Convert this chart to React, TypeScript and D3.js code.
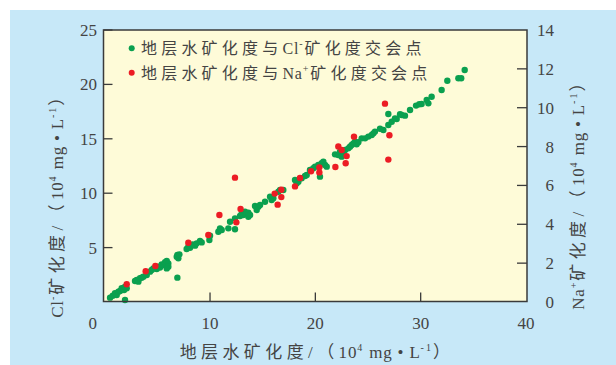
import React from 'react';
import * as d3 from 'd3';

// 地层水矿化度 vs Cl- 矿化度 (left axis)
const clTds = [
  0.51, 0.76, 0.98, 1.14, 1.3, 1.46, 1.61, 1.84, 1.93, 2.09, 1.93, 2.88, 3.04, 3.2, 3.35, 3.51,
  3.67, 3.99, 4.3, 4.46, 4.62, 4.94, 5.09, 5.25, 5.41, 5.57, 5.73, 5.89, 6.04, 6.04, 5.89, 6.84,
  6.99, 6.9, 7.09, 6.9, 7.78, 7.94, 8.1, 8.35, 8.58, 8.73, 9.05, 9.21, 9.94, 10.0, 10.79, 10.95,
  11.11, 11.74, 11.9, 12.37, 12.37, 12.85, 13.01, 13.16, 13.32, 13.48, 13.64, 13.64, 13.8, 14.27,
  14.43, 14.59, 14.75, 15.22, 15.7, 15.85, 16.01, 16.65, 16.49, 16.96, 18.07, 18.23, 18.39, 18.7,
  19.02, 19.18, 19.49, 19.81, 19.97, 20.28, 20.44, 20.6, 20.76, 20.92, 21.08, 21.87, 22.18, 22.34,
  22.5, 22.66, 22.82, 23.13, 23.29, 23.45, 23.61, 23.77, 23.92, 24.08, 24.4, 24.72, 25.03, 25.35,
  25.51, 25.66, 26.14, 26.46, 26.93, 26.93, 27.25, 27.56, 27.72, 28.04, 28.2, 28.51, 28.99, 29.56,
  29.87, 30.09, 30.57, 30.73, 31.04, 31.99, 32.53, 33.58, 33.85, 34.18,
];
const clValues = [
  0.4, 0.58, 0.8, 0.64, 0.95, 1.01, 1.26, 1.1, 1.41, 1.26, 0.18, 1.93, 2.02, 1.87, 2.18, 2.24,
  2.33, 2.48, 2.79, 2.94, 3.09, 3.03, 3.25, 3.16, 3.46, 3.4, 3.65, 3.77, 3.55, 3.25, 3.09, 4.17,
  4.01, 4.32, 4.38, 2.24, 4.87, 5.09, 4.99, 5.3, 5.18, 5.39, 5.61, 5.48, 5.7, 6.1, 6.46, 6.77,
  6.62, 6.77, 7.38, 6.68, 7.69, 7.9, 8.15, 8.0, 8.3, 8.15, 7.84, 8.21, 8.0, 8.82,
  8.46, 8.76, 8.92, 9.22, 9.68, 9.38, 9.53, 10.29, 10.14, 10.29, 11.21, 10.91, 11.06, 11.37,
  11.58, 11.67, 12.13, 12.29, 12.44, 12.59, 11.52, 12.75, 12.9, 12.59, 12.44, 13.57, 13.51, 13.82,
  13.36, 13.66, 13.97, 14.12, 14.28, 14.43, 14.58, 14.74, 14.49, 14.68, 15.04, 15.04, 15.2, 15.35,
  15.5, 15.66, 15.93, 15.81, 16.27, 17.28, 16.57, 16.88, 16.82, 17.25, 17.19, 17.13, 17.65, 18.05,
  18.17, 18.2, 18.57, 18.26, 18.87, 19.49, 20.34, 20.56, 20.56, 21.32,
];

// 地层水矿化度 vs Na+ 矿化度 (right axis)
const naTds = [
  2.09, 3.89, 4.81, 7.94, 9.84, 10.89, 12.37, 12.5, 12.9, 16.14, 16.42, 16.77, 16.77, 18.07,
  18.54, 19.59, 20.38, 20.38, 21.9, 22.18, 22.5, 22.88, 22.97, 23.67, 26.61, 27.03, 26.93,
];
const naValues = [
  0.91, 1.58, 1.85, 3.05, 3.45, 4.48, 6.4, 4.1, 4.79, 5.58, 5.01, 5.78, 5.4, 5.95,
  6.38, 6.73, 6.93, 6.67, 6.95, 8.0, 7.82, 7.14, 7.51, 8.51, 10.21, 8.58, 7.33,
];

const xTicks = [0, 10, 20, 30, 40];
const leftTicks = [5, 10, 15, 20, 25];
const rightTicks = [0, 2, 4, 6, 8, 10, 12, 14];

const W = 616;
const H = 365;
const plot = { left: 103.5, right: 527, top: 30, bottom: 301.5 };

const serif = '"Liberation Serif", "Times New Roman", "Noto Sans CJK SC", serif';
const textColor = '#444444';
const axisColor = '#3a3a3a';
const green = '#0aa04f';
const red = '#ec1c24';

// label pieces: c = CJK (spaced), l = latin, s = superscript
type Piece = [string, 'c' | 'l' | 's'];
const legendCl: Piece[] = [['地层水矿化度与', 'c'], ['Cl', 'l'], ['-', 's'], ['矿化度交会点', 'c']];
const legendNa: Piece[] = [['地层水矿化度与', 'c'], ['Na', 'l'], ['+', 's'], ['矿化度交会点', 'c']];
const unit: Piece[] = [['/（', 'c'], ['10', 'l'], ['4', 's'], [' mg • L', 'l'], ['-1', 's'], ['）', 'c']];
const xTitle: Piece[] = [['地层水矿化度', 'c'], ...unit];
const yLTitle: Piece[] = [['Cl', 'l'], ['-', 's'], ['矿化度', 'c'], ...unit];
const yRTitle: Piece[] = [['Na', 'l'], ['+', 's'], ['矿化度', 'c'], ...unit];

const renderPieces = (pieces: Piece[], spacing: number) => {
  let shifted = false;
  return pieces.map(([t, k], i) => {
    if (k === 's') {
      shifted = true;
      return (
        <tspan key={i} dy={-7} fontSize={10} letterSpacing={2}>{t}</tspan>
      );
    }
    const dy = shifted ? 7 : undefined;
    shifted = false;
    return (
      <tspan key={i} dy={dy} letterSpacing={k === 'c' ? spacing : 0.8}>{t}</tspan>
    );
  });
};

const App: React.FC = () => {
  const x = d3.scaleLinear().domain([0, 40]).range([104.7, 526]);
  const yL = d3.scaleLinear().domain([0, 25]).range([302, 30]);
  const yR = d3.scaleLinear().domain([0, 14]).range([302, 30]);

  const greenPts = clTds.map((t, i) => [t, clValues[i]]);
  const redPts = naTds.map((t, i) => [t, naValues[i]]);

  return (
    <div style={{ position: 'fixed', left: 0, top: 0 }}>
      <svg width={W} height={H} style={{ display: 'block' }}>
        <rect x={0} y={0} width={W} height={H} fill="#ffffff" />
        <rect x={10} y={10} width={W - 10} height={H - 10} fill="#c7e8f8" />
        <rect
          x={plot.left}
          y={plot.top}
          width={plot.right - plot.left}
          height={plot.bottom - plot.top}
          fill="#fefbd8"
        />

        {/* ticks */}
        <g stroke={axisColor} strokeWidth={1.3}>
          {leftTicks.map((t) => (
            <line key={'l' + t} x1={plot.left} x2={plot.left + 9} y1={yL(t)} y2={yL(t)} />
          ))}
          {rightTicks.slice(1, -1).map((t) => (
            <line key={'r' + t} x1={plot.right - 10} x2={plot.right} y1={yR(t)} y2={yR(t)} />
          ))}
          {xTicks.slice(1, -1).map((t) => (
            <line key={'x' + t} x1={x(t)} x2={x(t)} y1={plot.bottom} y2={plot.bottom - 9} />
          ))}
        </g>

        {/* points */}
        {greenPts.map((p, i) => (
          <circle key={'g' + i} cx={x(p[0])} cy={yL(p[1])} r={3.2} fill={green} />
        ))}
        {redPts.map((p, i) => (
          <circle key={'r' + i} cx={x(p[0])} cy={yR(p[1])} r={3.2} fill={red} />
        ))}

        <rect
          x={plot.left}
          y={plot.top}
          width={plot.right - plot.left}
          height={plot.bottom - plot.top}
          fill="none"
          stroke={axisColor}
          strokeWidth={1.5}
        />

        {/* tick labels */}
        <g fontFamily={serif} fontSize={17} fill={textColor}>
          {leftTicks.map((t) => (
            <text key={'lt' + t} x={97} y={yL(t)} dy="0.35em" textAnchor="end">{t}</text>
          ))}
          {rightTicks.map((t) => (
            <text key={'rt' + t} x={554} y={yR(t)} dy="0.35em" textAnchor="end">{t}</text>
          ))}
          {xTicks.map((t) => (
            <text key={'xt' + t} x={t === 0 ? x(t) - 12 : x(t)} y={329} textAnchor="middle">{t}</text>
          ))}
        </g>

        {/* legend */}
        <g fontFamily={serif} fontSize={16} fill={textColor}>
          <circle cx={131.7} cy={48.3} r={3} fill={green} />
          <text x={141} y={54}>{renderPieces(legendCl, 4.2)}</text>
          <circle cx={131.7} cy={72.7} r={3} fill={red} />
          <text x={141} y={78.5}>{renderPieces(legendNa, 4.2)}</text>
        </g>

        {/* axis titles */}
        <g fontFamily={serif} fontSize={17} fill={textColor}>
          <text x={317} y={358} textAnchor="middle">{renderPieces(xTitle, 4.4)}</text>
          <text transform="translate(63,201) rotate(-90)" textAnchor="middle">
            {renderPieces(yLTitle, 4.4)}
          </text>
          <text transform="translate(584,190) rotate(-90)" textAnchor="middle">
            {renderPieces(yRTitle, 4.4)}
          </text>
        </g>
      </svg>
    </div>
  );
};

export default App;
